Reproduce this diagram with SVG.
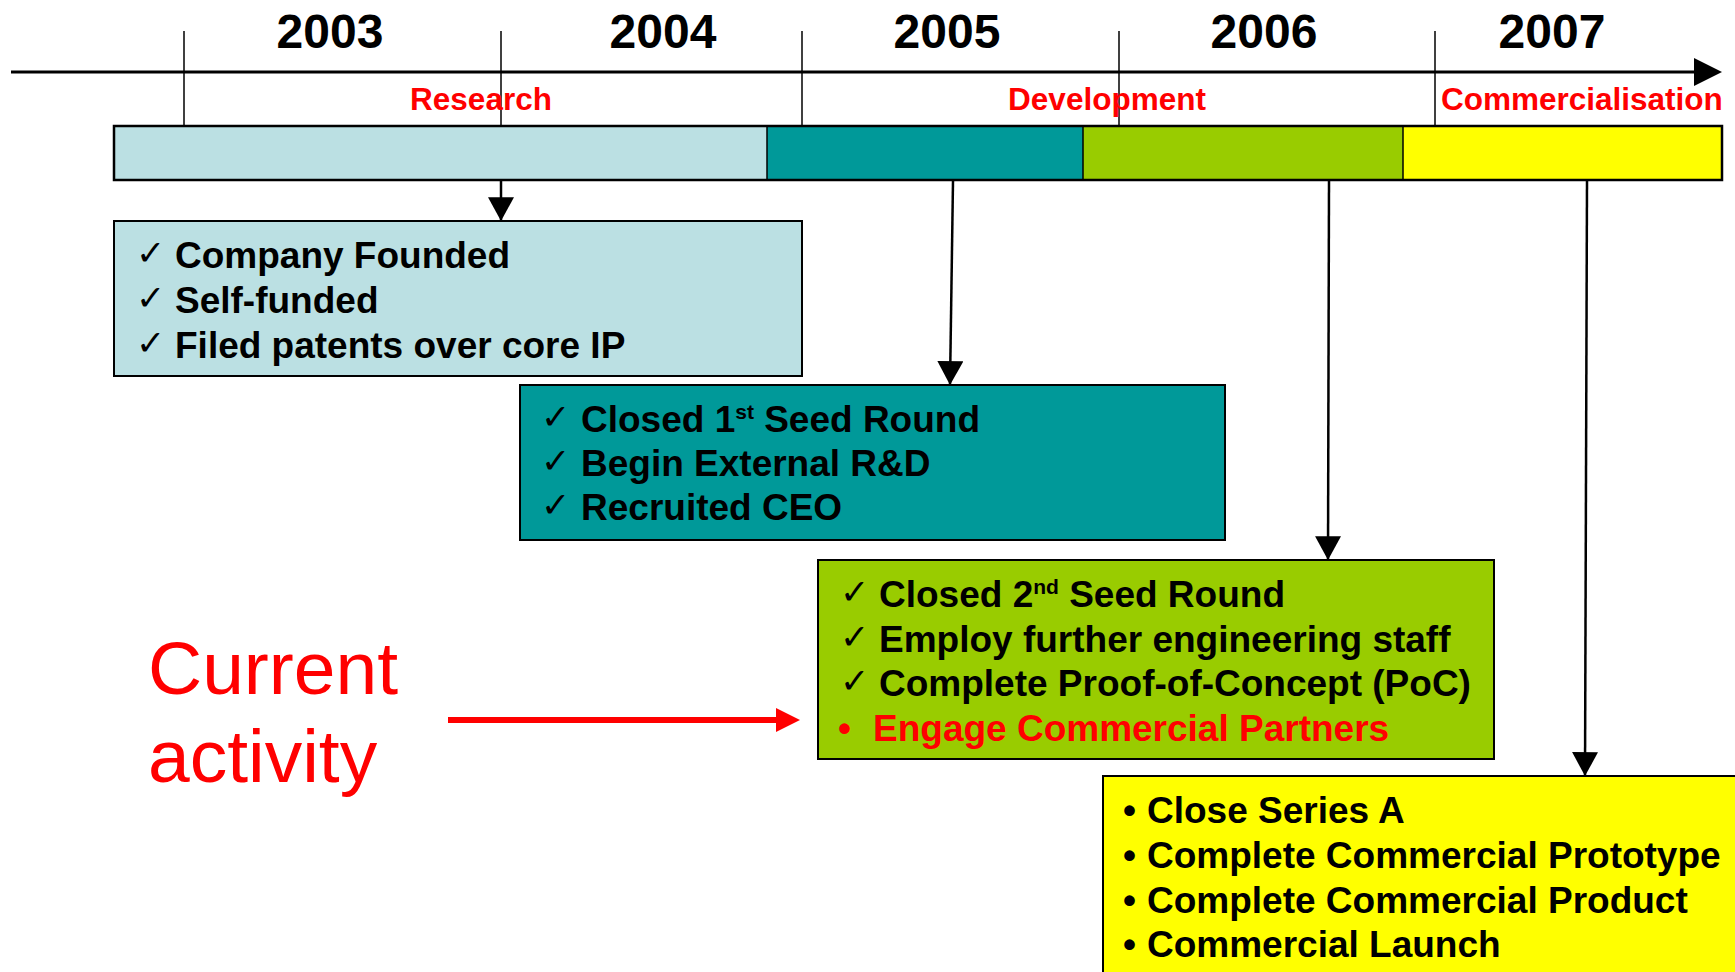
<svg xmlns="http://www.w3.org/2000/svg" width="1735" height="972" viewBox="0 0 1735 972">
  <style>
    .year { font-family: "Liberation Sans", Arial, sans-serif; font-weight: bold; font-size: 48px; fill: #000; text-anchor: middle; }
    .phase { font-family: "Liberation Sans", Arial, sans-serif; font-weight: bold; font-size: 31.5px; fill: #FF0000; }
    .item { font-family: "Liberation Sans", Arial, sans-serif; font-weight: bold; font-size: 37px; fill: #000; }
    .red { fill: #FF0000; }
    .chk { font-family: "DejaVu Sans", sans-serif; font-weight: normal; font-size: 35px; fill: #000; }
    .sup { font-size: 21px; }
    .box { stroke: #000; stroke-width: 2; }
    .tick { stroke: #000; stroke-width: 1.5; fill: none; }
    .conn { stroke: #000; stroke-width: 2.5; fill: none; marker-end: url(#head); }
    .note { font-family: "Liberation Sans", Arial, sans-serif; font-size: 75px; fill: #FF0000; }
  </style>
  <defs>
    <marker id="head" markerUnits="userSpaceOnUse" markerWidth="26" markerHeight="26" viewBox="0 0 24 24" refX="22" refY="12" orient="auto">
      <path d="M0,0 L22,12 L0,24 Z" fill="#000"/>
    </marker>
  </defs>

  <rect width="1735" height="972" fill="#FFFFFF"/>

  <!-- time axis with year ticks -->
  <g id="axis">
    <line x1="11" y1="72" x2="1698" y2="72" stroke="#000" stroke-width="3"/>
    <path d="M1694,58 L1722,72 L1694,86 Z" fill="#000"/>
    <line class="tick" x1="184" y1="31" x2="184" y2="126"/>
    <line class="tick" x1="501" y1="31" x2="501" y2="126"/>
    <line class="tick" x1="802" y1="31" x2="802" y2="126"/>
    <line class="tick" x1="1119" y1="31" x2="1119" y2="126"/>
    <line class="tick" x1="1435" y1="31" x2="1435" y2="126"/>
    <text class="year" x="330" y="48">2003</text>
    <text class="year" x="663" y="48">2004</text>
    <text class="year" x="947" y="48">2005</text>
    <text class="year" x="1264" y="48">2006</text>
    <text class="year" x="1552" y="48">2007</text>
  </g>

  <!-- phase bar -->
  <g id="phases">
    <text class="phase" x="481" y="110" text-anchor="middle">Research</text>
    <text class="phase" x="1107" y="110" text-anchor="middle">Development</text>
    <text class="phase" x="1441" y="110">Commercialisation</text>
    <rect x="114" y="126" width="653" height="54" fill="#BBE0E3"/>
    <rect x="767" y="126" width="316" height="54" fill="#009999"/>
    <rect x="1083" y="126" width="320" height="54" fill="#99CC00"/>
    <rect x="1403" y="126" width="319" height="54" fill="#FFFF00"/>
    <line x1="767" y1="126" x2="767" y2="180" stroke="#000" stroke-width="1.5"/>
    <line x1="1083" y1="126" x2="1083" y2="180" stroke="#000" stroke-width="1.5"/>
    <line x1="1403" y1="126" x2="1403" y2="180" stroke="#000" stroke-width="1.5"/>
    <rect x="114" y="126" width="1608" height="54" fill="none" stroke="#000" stroke-width="2.5"/>
  </g>

  <!-- connectors from phases to milestones -->
  <g id="connectors">
    <line class="conn" x1="501" y1="181" x2="501" y2="221"/>
    <line class="conn" x1="953" y1="181" x2="950" y2="385"/>
    <line class="conn" x1="1329" y1="181" x2="1328" y2="560"/>
    <line class="conn" x1="1587" y1="181" x2="1585" y2="776"/>
    <line x1="448" y1="720" x2="780" y2="720" stroke="#FF0000" stroke-width="6"/>
    <path d="M776,708 L800,720 L776,732 Z" fill="#FF0000"/>
  </g>

  <!-- research milestones -->
  <g id="research">
    <rect class="box" x="114" y="221" width="688" height="155" fill="#BBE0E3"/>
    <text class="chk" x="136" y="265">✓</text>
    <text class="chk" x="136" y="310">✓</text>
    <text class="chk" x="136" y="355">✓</text>
    <text class="item" x="175" y="268">Company Founded</text>
    <text class="item" x="175" y="313">Self-funded</text>
    <text class="item" x="175" y="358">Filed patents over core IP</text>
  </g>

  <!-- first development stage -->
  <g id="seed1">
    <rect class="box" x="520" y="385" width="705" height="155" fill="#009999"/>
    <text class="chk" x="541" y="429">✓</text>
    <text class="chk" x="541" y="473">✓</text>
    <text class="chk" x="541" y="517">✓</text>
    <text class="item" x="581" y="432">Closed 1<tspan class="sup" dy="-13">st</tspan><tspan dy="13"> Seed Round</tspan></text>
    <text class="item" x="581" y="476">Begin External R&amp;D</text>
    <text class="item" x="581" y="520">Recruited CEO</text>
  </g>

  <!-- second development stage -->
  <g id="seed2">
    <rect class="box" x="818" y="560" width="676" height="199" fill="#99CC00"/>
    <text class="chk" x="840" y="604">✓</text>
    <text class="chk" x="840" y="649">✓</text>
    <text class="chk" x="840" y="693">✓</text>
    <text class="item" x="879" y="607">Closed 2<tspan class="sup" dy="-13">nd</tspan><tspan dy="13"> Seed Round</tspan></text>
    <text class="item" x="879" y="652">Employ further engineering staff</text>
    <text class="item" x="879" y="696">Complete Proof-of-Concept (PoC)</text>
    <text class="item red" x="838" y="741">•</text>
    <text class="item red" x="873" y="741">Engage Commercial Partners</text>
  </g>

  <!-- commercialisation stage -->
  <g id="commercial">
    <rect class="box" x="1103" y="776" width="640" height="210" fill="#FFFF00"/>
    <text class="item" x="1123" y="823">•</text>
    <text class="item" x="1123" y="868">•</text>
    <text class="item" x="1123" y="913">•</text>
    <text class="item" x="1123" y="957">•</text>
    <text class="item" x="1147" y="823">Close Series A</text>
    <text class="item" x="1147" y="868">Complete Commercial Prototype</text>
    <text class="item" x="1147" y="913">Complete Commercial Product</text>
    <text class="item" x="1147" y="957">Commercial Launch</text>
  </g>

  <!-- current activity marker -->
  <g id="current">
    <text class="note" x="148" y="694">Current</text>
    <text class="note" x="148" y="782">activity</text>
  </g>
</svg>
